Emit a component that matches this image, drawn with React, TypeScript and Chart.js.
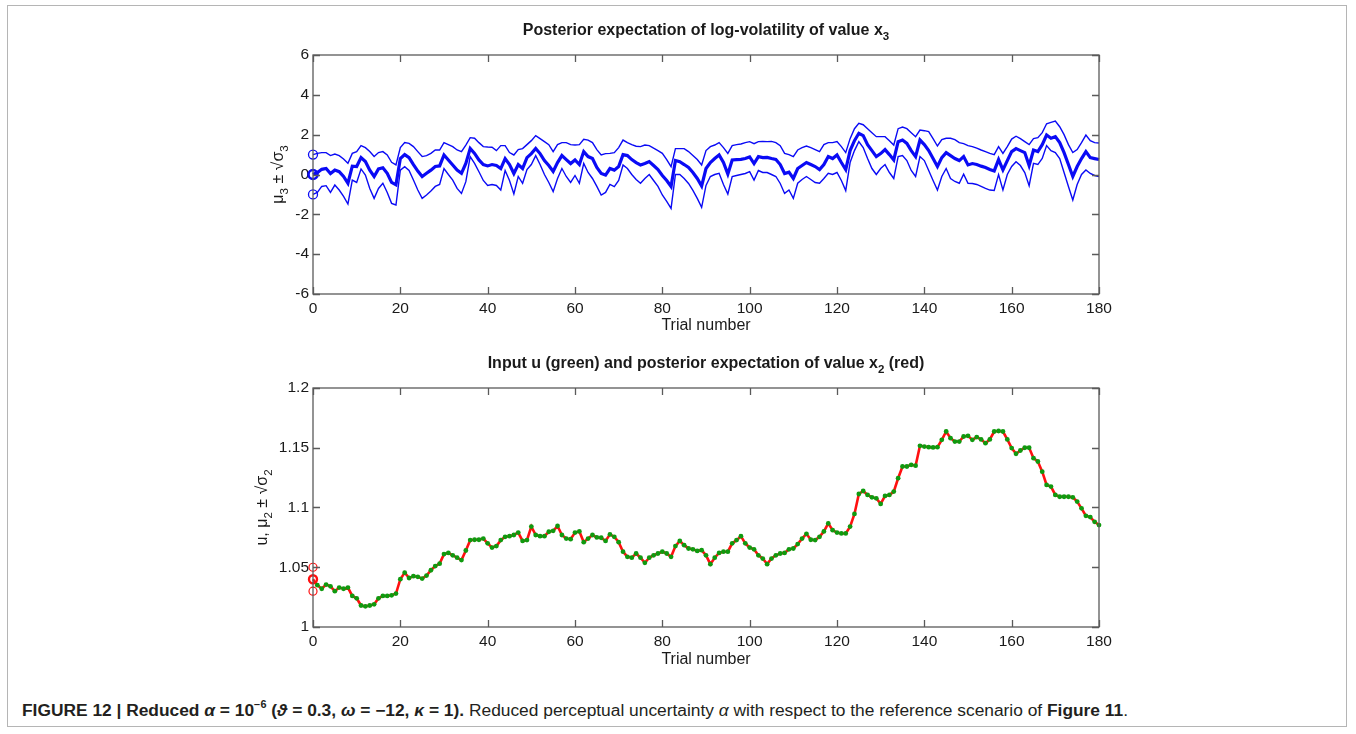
import React, { useEffect, useLayoutEffect, useRef } from "react";
import { Chart, registerables } from "chart.js";

Chart.register(...registerables);

// ---------------- data ----------------
const xTickValues = [0, 20, 40, 60, 80, 100, 120, 140, 160, 180];

const topYTicks = [-6, -4, -2, 0, 2, 4, 6];
const topYTickLabels = ["-6", "-4", "-2", "0", "2", "4", "6"];

const bottomYTicks = [1, 1.05, 1.1, 1.15, 1.2];
const bottomYTickLabels = ["1", "1.05", "1.1", "1.15", "1.2"];

// posterior mean of x3, trials 0..180
const mu3 = [
  0, 0.1, 0.26, 0.3, 0.05, 0.22, 0.14, -0.1, -0.44, 0.42,
  0.4, 0.85, 0.65, 0.22, -0.1, 0.28, 0.34, 0.06, -0.4, -0.52,
  0.8, 1.0, 0.85, 0.5, 0.17, -0.1, 0.06, 0.22, 0.4, 0.43,
  0.98, 0.73, 0.48, 0.22, 0.06, 0.56, 1.31, 1.06, 0.73, 0.5,
  0.43, 0.5, 0.45, 0.3, 0.8, 0.5, 0.05, 0.5, 0.3, 0.85,
  1.05, 1.31, 1.05, 0.7, 0.45, 0.15, 0.6, 0.95, 0.75, 0.55,
  0.73, 0.5, 1.15, 0.9, 0.8, 0.35, 0.05, -0.03, 0.3, 0.22,
  0.4, 1.0, 0.95, 0.75, 0.6, 0.48, 0.55, 0.65, 0.45, 0.25,
  -0.05, -0.3, -0.6, 0.7, 0.64, 0.5, 0.35, 0.1, -0.2, -0.58,
  0.3, 0.6, 0.8, 0.98, 0.6, 0.02, 0.73, 0.75, 0.76, 0.8,
  0.88, 0.55, 0.9, 0.85, 0.86, 0.8, 0.75, 0.5, 0.05, 0.12,
  -0.2, 0.3, 0.45, 0.6, 0.5, 0.4, 0.25, 0.5, 0.9, 0.8,
  0.98, 0.6, 0.25, 1.2, 1.7, 2.07, 1.95, 1.5, 1.2, 0.9,
  1.05, 1.25, 1.0, 0.73, 1.65, 1.73, 1.56, 1.2, 0.9, 1.73,
  1.5, 1.2, 0.8, 0.4, 0.85, 1.1, 0.95, 0.8, 0.7, 0.9,
  0.48, 0.55, 0.5, 0.42, 0.35, 0.25, 0.18, 0.75, 0.23, 0.7,
  1.15, 1.3, 1.2, 1.1, 0.45, 1.23, 1.15, 1.5, 1.98, 1.82,
  1.9, 1.6, 1.1, 0.5, -0.1, 0.4, 0.8, 1.15, 0.85, 0.8,
  0.75,
];

// mu3 + sqrt(sigma3)
const mu3Upper = [
  1.0, 1.06, 1.1, 1.1, 0.95, 1.03, 0.95, 0.78, 0.56, 1.06,
  1.15, 1.45, 1.35, 1.15, 0.9, 1.1, 1.15, 0.98, 0.61, 0.48,
  1.35, 1.6, 1.56, 1.4, 1.15, 0.9, 0.95, 1.06, 1.23, 1.23,
  1.6, 1.5, 1.4, 1.23, 1.15, 1.48, 1.85, 1.82, 1.6, 1.4,
  1.38, 1.37, 1.2, 1.45, 1.45, 1.1, 0.98, 1.25, 1.3, 1.5,
  1.7, 1.95, 1.8, 1.65, 1.5, 1.15, 1.5, 1.6, 1.6, 1.5,
  1.48, 1.5, 1.77, 1.73, 1.6, 1.25, 0.98, 1.05, 1.06, 1.1,
  1.35, 1.73, 1.6, 1.5, 1.42, 1.4, 1.48, 1.45, 1.32, 1.2,
  1.06, 0.75, 0.39, 1.3, 1.3, 1.3, 1.15, 0.95, 0.75, 0.48,
  1.2, 1.4, 1.48, 1.6, 1.35, 1.06, 1.45, 1.5, 1.53, 1.6,
  1.65, 1.55, 1.65, 1.66, 1.65, 1.66, 1.6, 1.45, 1.06, 1.0,
  0.9, 1.23, 1.35, 1.43, 1.35, 1.25, 1.15, 1.5, 1.6, 1.6,
  1.65, 1.4, 1.1, 1.8, 2.3, 2.57, 2.5, 2.3, 2.1, 1.9,
  1.9, 1.9, 1.7, 1.48, 2.3, 2.38, 2.3, 2.1, 1.9, 2.23,
  2.2, 2.15, 1.8, 1.43, 1.75, 1.82, 1.82, 1.75, 1.6, 1.55,
  1.45, 1.4, 1.32, 1.23, 1.15, 1.06, 1.0, 1.4, 1.06, 1.4,
  1.78, 1.92, 1.8, 1.65, 1.5, 1.8, 1.85, 2.1, 2.55, 2.62,
  2.68, 2.4, 2.0, 1.5, 1.1, 1.25, 1.6, 1.98, 1.7, 1.6,
  1.58,
];

// mu3 - sqrt(sigma3)
const mu3Lower = [
  -1.0, -0.9, -0.6, -0.56, -0.9, -0.53, -0.78, -1.1, -1.48, -0.28,
  -0.4, 0.28, -0.03, -0.7, -1.2, -0.7, -0.44, -0.9, -1.45, -1.53,
  0.22, 0.39, 0.2, -0.28, -0.78, -1.2, -1.03, -0.83, -0.6, -0.5,
  0.3, 0.0, -0.28, -0.7, -0.95, -0.36, 0.9, 0.56, 0.14, -0.3,
  -0.55, -0.5, -0.55, -0.78, 0.2, -0.3, -0.98, -0.1, -0.44, 0.25,
  0.5, 0.95, 0.5, 0.0, -0.4, -0.86, -0.2, 0.3, -0.1, -0.4,
  -0.05, -0.44, 0.56, 0.1, -0.2, -0.6, -1.03, -0.9, -0.5, -0.61,
  -0.3, 0.48, 0.3, 0.0, -0.25, -0.44, -0.2, 0.0, -0.3, -0.6,
  -1.03, -1.35, -1.7, 0.0, 0.0, -0.2, -0.45, -0.8, -1.2, -1.65,
  -0.55, -0.1, 0.0, 0.06, -0.5, -0.98, -0.1, -0.05, 0.0, 0.05,
  0.14, -0.28, 0.2, 0.1, 0.1, 0.0, -0.1, -0.45, -0.95, -0.78,
  -1.2, -0.44, -0.25, -0.1, -0.25, -0.4, -0.44, -0.2, 0.06, 0.0,
  0.1, -0.3, -0.81, 0.6, 1.2, 1.65, 1.35, 0.8, 0.3, 0.0,
  0.3, 0.5, 0.1, -0.2, 0.9, 0.95, 0.7, 0.2, -0.1, 0.9,
  0.7, 0.2, -0.3, -0.78, -0.1, 0.3, -0.2, -0.35, -0.44, 0.02,
  -0.44, -0.45, -0.5, -0.6, -0.7, -0.78, -0.8, 0.0, -0.78, 0.0,
  0.4, 0.64, 0.45, 0.1, -0.56, 0.56, 0.5, 0.81, 1.45, 1.2,
  1.1, 0.8, 0.1, -0.6, -1.28, -0.5, 0.0, 0.23, 0.05, -0.05,
  -0.1,
];

// prior markers at trial 0 (mu3, mu3 +/- sqrt(sigma3))
const mu3PriorBand = [1, -1];
const mu3PriorMean = [0];

// input u, trials 1..180
const uInput = [
  1.035, 1.032, 1.0355, 1.034, 1.03, 1.033, 1.032, 1.033, 1.026, 1.024,
  1.018, 1.0173, 1.018, 1.019, 1.024, 1.026, 1.026, 1.0265, 1.028, 1.04,
  1.0455, 1.041, 1.0425, 1.042, 1.0405, 1.043, 1.0475, 1.051, 1.053, 1.061,
  1.062, 1.06, 1.058, 1.056, 1.064, 1.0727, 1.073, 1.073, 1.074, 1.07,
  1.0665, 1.0677, 1.0727, 1.0755, 1.076, 1.077, 1.079, 1.072, 1.0727, 1.084,
  1.077, 1.076, 1.076, 1.0797, 1.0805, 1.0845, 1.077, 1.074, 1.0735, 1.079,
  1.08, 1.071, 1.074, 1.077, 1.075, 1.0747, 1.072, 1.0775, 1.0755, 1.071,
  1.063, 1.0587, 1.058, 1.0615, 1.058, 1.0537, 1.058, 1.06, 1.0615, 1.063,
  1.0615, 1.0587, 1.0677, 1.072, 1.0685, 1.0657, 1.065, 1.0637, 1.0643, 1.06,
  1.0526, 1.058, 1.062, 1.063, 1.063, 1.07, 1.0727, 1.076, 1.07, 1.0665,
  1.065, 1.06, 1.0573, 1.0526, 1.0573, 1.06, 1.0615, 1.062, 1.065, 1.0657,
  1.0694, 1.074, 1.078, 1.073, 1.0727, 1.0755, 1.08, 1.0867, 1.081, 1.079,
  1.0783, 1.0783, 1.084, 1.0946, 1.1113, 1.1138, 1.1105, 1.1085, 1.1077, 1.103,
  1.1097, 1.1105, 1.1133, 1.1245, 1.1343, 1.1343, 1.1357, 1.135, 1.1516, 1.151,
  1.1505, 1.1503, 1.1505, 1.1566, 1.1636, 1.158, 1.1552, 1.1552, 1.1594, 1.16,
  1.1566, 1.1589, 1.157, 1.1538, 1.157, 1.1636, 1.164, 1.1636, 1.157, 1.1497,
  1.145, 1.1477, 1.15, 1.15, 1.1413, 1.1385, 1.13, 1.1189, 1.1175, 1.1105,
  1.109, 1.109, 1.109, 1.1085, 1.105, 1.0993, 1.093, 1.092, 1.088, 1.0853,
];

// posterior mean of x2, trials 0..180 (prior at 0, then tracks the input)
const mu2 = [1.04, ...uInput];
const mu2PriorBand = [1.05, 1.03];
const mu2PriorMean = [1.04];

// ---------------- styling ----------------
const BLUE = "#0a0af5";
const RED = "#ff1010";
const GREEN = "#0f9a0f";
const AXIS = "#5a5a5a";
const TEXT = "#1a1a1a";
const FONT = '"Liberation Sans", Arial, Helvetica, sans-serif';

type Seg = { t: string; sub?: boolean };

function drawRich(
  ctx: CanvasRenderingContext2D,
  segs: Seg[],
  x: number,
  y: number,
  size: number,
  weight: string,
  rotate = 0
) {
  ctx.save();
  ctx.translate(x, y);
  if (rotate) ctx.rotate(rotate);
  const f = (s: number) => `${weight} ${s}px ${FONT}`;
  const widths = segs.map((sg) => {
    ctx.font = f(sg.sub ? size * 0.72 : size);
    return ctx.measureText(sg.t).width;
  });
  const total = widths.reduce((a, b) => a + b, 0);
  let cx = -total / 2;
  ctx.textAlign = "left";
  ctx.textBaseline = "middle";
  ctx.fillStyle = TEXT;
  segs.forEach((sg, i) => {
    ctx.font = f(sg.sub ? size * 0.72 : size);
    ctx.fillText(sg.t, cx, sg.sub ? size * 0.38 : 0);
    cx += widths[i];
  });
  ctx.restore();
}

function makeFramePlugin(cfg: { title: Seg[]; ylabel: Seg[]; yTicks: number[]; titleY: number; ylabelX: number; xlabelY: number }) {
  return {
    id: "matlabFrame",
    afterDraw(chart: any) {
      const { ctx, chartArea: a, scales } = chart;
      const xs = scales.x;
      const ys = scales.y;
      ctx.save();
      ctx.strokeStyle = AXIS;
      ctx.lineWidth = 1.3;
      ctx.strokeRect(a.left, a.top, a.right - a.left, a.bottom - a.top);
      ctx.beginPath();
      const tl = 7;
      for (const v of xTickValues) {
        const px = Math.round(xs.getPixelForValue(v)) + 0.5;
        ctx.moveTo(px, a.bottom);
        ctx.lineTo(px, a.bottom - tl);
        ctx.moveTo(px, a.top);
        ctx.lineTo(px, a.top + tl);
      }
      for (const v of cfg.yTicks) {
        const py = Math.round(ys.getPixelForValue(v)) + 0.5;
        ctx.moveTo(a.left, py);
        ctx.lineTo(a.left + tl, py);
        ctx.moveTo(a.right, py);
        ctx.lineTo(a.right - tl, py);
      }
      ctx.stroke();
      const cxm = (a.left + a.right) / 2;
      const cym = (a.top + a.bottom) / 2;
      drawRich(ctx, cfg.title, cxm, cfg.titleY, 16, "bold");
      drawRich(ctx, cfg.ylabel, cfg.ylabelX, cym, 16, "normal", -Math.PI / 2);
      drawRich(ctx, [{ t: "Trial number" }], cxm, a.bottom + cfg.xlabelY, 16, "normal");
      ctx.restore();
    },
  };
}

function baseOptions(yMin: number, yMax: number, yTicks: number[], yLabels: string[], topPad: number, xAxisH: number) {
  return {
    responsive: false,
    animation: false as const,
    events: [],
    layout: { padding: { top: topPad, right: 31, left: 0, bottom: 0 } },
    plugins: { legend: { display: false }, tooltip: { enabled: false }, title: { display: false } },
    scales: {
      x: {
        type: "linear" as const,
        min: 0,
        max: 180,
        grid: { display: false, drawTicks: false },
        border: { display: false },
        afterBuildTicks: (s: any) => {
          s.ticks = xTickValues.map((v) => ({ value: v }));
        },
        afterFit: (s: any) => {
          s.height = xAxisH;
        },
        ticks: {
          padding: 5,
          color: TEXT,
          font: { family: FONT, size: 15.5 },
          maxRotation: 0,
          autoSkip: false,
          callback: (v: any) => String(v),
        },
      },
      y: {
        type: "linear" as const,
        min: yMin,
        max: yMax,
        grid: { display: false, drawTicks: false },
        border: { display: false },
        afterBuildTicks: (s: any) => {
          s.ticks = yTicks.map((v) => ({ value: v }));
        },
        afterFit: (s: any) => {
          s.width = 83;
        },
        ticks: {
          padding: 4,
          color: TEXT,
          font: { family: FONT, size: 15.5 },
          autoSkip: false,
          callback: (v: any) => {
            const i = yTicks.findIndex((t) => Math.abs(t - v) < 1e-9);
            return i >= 0 ? yLabels[i] : "";
          },
        },
      },
    },
  };
}

function TopChart() {
  const ref = useRef<HTMLCanvasElement>(null);
  useEffect(() => {
    if (!ref.current) return;
    const line = (vals: number[], w: number) => ({
      type: "line" as const,
      data: vals.map((v, i) => ({ x: i, y: v })),
      borderColor: BLUE,
      borderWidth: w,
      pointRadius: 0,
      fill: false,
      tension: 0,
      clip: false as const,
    });
    const circles = (vals: number[], w: number) => ({
      type: "scatter" as const,
      data: vals.map((v) => ({ x: 0, y: v })),
      borderColor: BLUE,
      backgroundColor: "rgba(0,0,0,0)",
      borderWidth: w,
      pointRadius: 4.5,
      showLine: false,
      clip: false as const,
    });
    const chart = new Chart(ref.current, {
      type: "line",
      data: {
        datasets: [
          circles(mu3PriorMean, 2.6),
          circles(mu3PriorBand, 1.3),
          line(mu3, 3.2),
          line(mu3Upper, 1.4),
          line(mu3Lower, 1.4),
        ] as any,
      },
      options: baseOptions(-6, 6, topYTicks, topYTickLabels, 40, 51) as any,
      plugins: [
        makeFramePlugin({
          title: [{ t: "Posterior expectation of log-volatility of value x" }, { t: "3", sub: true }],
          ylabel: [{ t: "\u03bc" }, { t: "3", sub: true }, { t: " \u00b1 \u221a\u03c3" }, { t: "3", sub: true }],
          yTicks: topYTicks,
          titleY: 16,
          ylabelX: 49,
          xlabelY: 32,
        }),
      ],
    });
    return () => chart.destroy();
  }, []);
  return <canvas ref={ref} width={900} height={330} style={{ position: "absolute", left: 230, top: 15 }} />;
}

function BottomChart() {
  const ref = useRef<HTMLCanvasElement>(null);
  useEffect(() => {
    if (!ref.current) return;
    const circles = (vals: number[], w: number) => ({
      type: "scatter" as const,
      data: vals.map((v) => ({ x: 0, y: v })),
      borderColor: RED,
      backgroundColor: "rgba(0,0,0,0)",
      borderWidth: w,
      pointRadius: 4,
      showLine: false,
      clip: false as const,
    });
    const chart = new Chart(ref.current, {
      type: "line",
      data: {
        datasets: [
          {
            type: "scatter",
            data: uInput.map((v, i) => ({ x: i + 1, y: v })),
            backgroundColor: GREEN,
            borderColor: GREEN,
            borderWidth: 0,
            pointRadius: 2.4,
            showLine: false,
            clip: false,
          },
          circles(mu2PriorMean, 2.4),
          circles(mu2PriorBand, 1.2),
          {
            type: "line",
            data: mu2.map((v, i) => ({ x: i, y: v })),
            borderColor: RED,
            borderWidth: 2.6,
            pointRadius: 0,
            fill: false,
            tension: 0,
            clip: false,
          },
        ] as any,
      },
      options: baseOptions(1, 1.2, bottomYTicks, bottomYTickLabels, 43, 48) as any,
      plugins: [
        makeFramePlugin({
          title: [
            { t: "Input u (green) and posterior expectation of value x" },
            { t: "2", sub: true },
            { t: " (red)" },
          ],
          ylabel: [{ t: "u, \u03bc" }, { t: "2", sub: true }, { t: " \u00b1 \u221a\u03c3" }, { t: "2", sub: true }],
          yTicks: bottomYTicks,
          titleY: 19,
          ylabelX: 33,
          xlabelY: 33,
        }),
      ],
    });
    return () => chart.destroy();
  }, []);
  return <canvas ref={ref} width={900} height={330} style={{ position: "absolute", left: 230, top: 345 }} />;
}

const CAPTION_WIDTH = 1106;

function Caption() {
  const ref = useRef<HTMLDivElement>(null);
  useLayoutEffect(() => {
    const el = ref.current;
    if (!el) return;
    el.style.transform = "none";
    const w = el.getBoundingClientRect().width;
    if (w > 0) el.style.transform = `scaleX(${CAPTION_WIDTH / w})`;
  }, []);
  const sup: React.CSSProperties = { fontSize: 10, verticalAlign: "top", lineHeight: "10px", position: "relative", top: -1 };
  return (
    <div
      ref={ref}
      style={{
        position: "absolute",
        left: 22,
        top: 701,
        fontFamily: FONT,
        fontSize: 16,
        lineHeight: "20px",
        whiteSpace: "nowrap",
        transformOrigin: "left top",
        color: "#231f20",
      }}
    >
      <b>
        FIGURE 12 | Reduced <i>α</i> = 10<span style={sup}>−6</span> (<i>ϑ</i> = 0.3, <i>ω</i> = −12, <i>κ</i> = 1).
      </b>{" "}
      Reduced perceptual uncertainty <i>α</i> with respect to the reference scenario of <b>Figure 11</b>.
    </div>
  );
}

export default function App() {
  return (
    <div>
      <div
        style={{
          position: "absolute",
          left: 7,
          top: 5,
          width: 1340,
          height: 722,
          border: "1px solid #b5b5b5",
          boxSizing: "border-box",
        }}
      />
      <TopChart />
      <BottomChart />
      <Caption />
    </div>
  );
}
